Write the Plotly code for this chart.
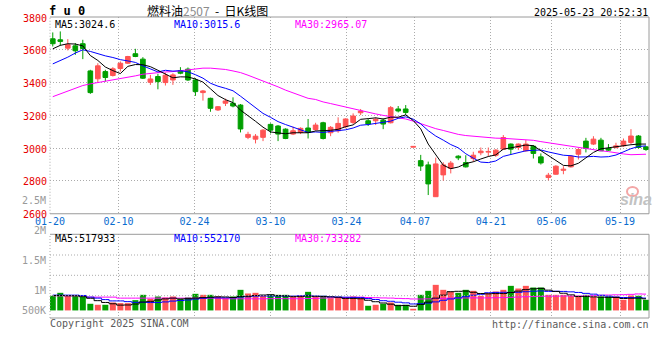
import plotly.graph_objects as go

# ---------------- data ----------------
dates_shown = ["01-20", "02-10", "02-24", "03-10", "03-24", "04-07", "04-21", "05-06", "05-19"]
date_tick_pos = [-0.36, 8.75, 18.87, 28.99, 39.11, 48.22, 58.34, 66.43, 75.54]
price_ticks = [2600, 2800, 3000, 3200, 3400, 3600, 3800]

opens = [3667, 3661, 3610, 3624, 3637, 3471, 3423, 3467, 3443, 3486,
         3518, 3576, 3543, 3402, 3437, 3400, 3416, 3473, 3482, 3416,
         3339, 3304, 3233, 3274, 3274, 3263, 3066, 3055, 3066, 3145,
         3135, 3116, 3086, 3096, 3123, 3114, 3155, 3094, 3106, 3131,
         3157, 3216, 3167, 3167, 3171, 3155, 3239, 3239, 3006, 2924,
         2898, 2704, 2837, 2877, 2951, 2912, 2937, 2972, 2976, 2957,
         2994, 3025, 3004, 2984, 3012, 2947, 2821, 2841, 2865, 2886,
         2963, 3043, 3025, 3049, 2998, 3004, 3014, 3035, 3074, 3008]
highs = [3706, 3712, 3665, 3641, 3661, 3478, 3518, 3478, 3494, 3529,
         3563, 3606, 3555, 3447, 3453, 3461, 3457, 3494, 3492, 3427,
         3355, 3308, 3257, 3302, 3310, 3269, 3100, 3086, 3116, 3151,
         3141, 3121, 3131, 3127, 3178, 3155, 3161, 3135, 3188, 3182,
         3212, 3239, 3180, 3188, 3182, 3257, 3257, 3263, 3011, 2959,
         2918, 2942, 2914, 2922, 2957, 2957, 2978, 3004, 3004, 2994,
         3080, 3029, 3029, 3049, 3019, 2968, 2849, 2896, 2890, 2957,
         2998, 3063, 3073, 3063, 3025, 3033, 3059, 3116, 3080, 3012]
lows = [3620, 3625, 3596, 3569, 3543, 3331, 3400, 3406, 3437, 3467,
        3514, 3555, 3422, 3386, 3359, 3382, 3386, 3451, 3410, 3319,
        3290, 3222, 3227, 3257, 3249, 3096, 3055, 3029, 3043, 3090,
        3043, 3055, 3080, 3086, 3059, 3106, 3053, 3073, 3094, 3121,
        3147, 3202, 3135, 3141, 3116, 3151, 3218, 3202, 3006, 2861,
        2714, 2704, 2802, 2846, 2927, 2882, 2917, 2957, 2951, 2947,
        2992, 2963, 2988, 2978, 2937, 2900, 2804, 2839, 2841, 2882,
        2931, 2974, 3019, 2982, 2984, 2998, 3008, 3025, 2998, 2984]
closes = [3637, 3651, 3631, 3594, 3608, 3339, 3502, 3431, 3484, 3518,
          3559, 3559, 3427, 3422, 3406, 3445, 3447, 3457, 3416, 3345,
          3349, 3243, 3253, 3288, 3257, 3117, 3084, 3073, 3110, 3110,
          3086, 3059, 3106, 3121, 3096, 3141, 3059, 3127, 3151, 3178,
          3196, 3226, 3147, 3176, 3147, 3247, 3227, 3218, 3011, 2891,
          2782, 2904, 2898, 2909, 2941, 2886, 2957, 2982, 2980, 2988,
          3065, 2994, 3025, 3025, 2968, 2910, 2835, 2890, 2872, 2951,
          2992, 2998, 3055, 2984, 2988, 3014, 3043, 3074, 3004, 2992]

ma5 = [3606, 3627, 3637, 3635, 3624, 3565, 3535, 3495, 3473, 3455,
       3499, 3510, 3509, 3497, 3475, 3452, 3429, 3435, 3434, 3422,
       3403, 3362, 3321, 3296, 3278, 3232, 3200, 3164, 3128, 3099,
       3093, 3088, 3094, 3096, 3094, 3105, 3105, 3109, 3115, 3131,
       3142, 3176, 3180, 3185, 3178, 3189, 3189, 3203, 3169, 3118,
       3025, 2960, 2896, 2875, 2885, 2906, 2917, 2934, 2949, 2959,
       2994, 3002, 3010, 3019, 3015, 2984, 2953, 2926, 2895, 2892,
       2908, 2941, 2974, 2996, 3003, 3008, 3017, 3021, 3025, 3025]
ma10 = [3514, 3533, 3555, 3580, 3600, 3590, 3576, 3563, 3553, 3540,
        3532, 3523, 3502, 3485, 3465, 3475, 3470, 3472, 3466, 3448,
        3427, 3396, 3378, 3365, 3350, 3317, 3281, 3243, 3212, 3188,
        3162, 3144, 3129, 3112, 3096, 3099, 3096, 3102, 3106, 3112,
        3123, 3140, 3144, 3150, 3155, 3165, 3182, 3191, 3177, 3148,
        3107, 3074, 3049, 3022, 3002, 2966, 2939, 2915, 2912, 2922,
        2950, 2960, 2972, 2984, 2987, 2989, 2977, 2968, 2957, 2954,
        2946, 2947, 2950, 2946, 2948, 2958, 2979, 2997, 3010, 3014]
ma30 = [3314, 3331, 3351, 3365, 3382, 3392, 3400, 3408, 3416, 3422,
        3433, 3441, 3451, 3457, 3461, 3465, 3467, 3473, 3480, 3486,
        3488, 3488, 3486, 3480, 3471, 3461, 3445, 3428, 3408, 3392,
        3374, 3354, 3336, 3321, 3304, 3297, 3282, 3272, 3261, 3250,
        3238, 3227, 3217, 3209, 3200, 3194, 3186, 3178, 3165, 3150,
        3131, 3119, 3108, 3095, 3084, 3077, 3072, 3069, 3065, 3061,
        3060, 3058, 3055, 3052, 3048, 3040, 3033, 3025, 3015, 3008,
        3001, 2994, 2990, 2984, 2979, 2971, 2965, 2960, 2960, 2963]

# volume in thousands of lots
volume_k = [660, 795, 660, 660, 630, 300, 255, 255, 360, 330,
            330, 465, 705, 525, 630, 585, 630, 525, 585, 750,
            705, 705, 630, 555, 630, 930, 765, 795, 660, 705,
            705, 705, 630, 675, 840, 630, 660, 555, 585, 585,
            630, 585, 210, 255, 300, 360, 255, 255, 75, 705,
            885, 1155, 930, 855, 795, 930, 885, 660, 780, 855,
            930, 1110, 990, 1110, 1035, 1035, 705, 705, 705, 660,
            660, 705, 630, 630, 630, 630, 480, 675, 660, 480]
vma5 = [675, 675, 660, 660, 621, 549, 441, 360, 300, 240,
        246, 288, 378, 411, 471, 522, 555, 519, 531, 555,
        579, 594, 615, 609, 585, 630, 642, 675, 696, 711,
        666, 654, 621, 624, 651, 636, 627, 612, 594, 543,
        543, 528, 459, 393, 336, 282, 216, 225, 189, 270,
        375, 555, 690, 846, 864, 873, 819, 765, 750, 762,
        762, 807, 873, 939, 975, 996, 915, 858, 777, 702,
        627, 627, 612, 597, 591, 585, 540, 549, 555, 525]
vma10 = [690, 690, 690, 690, 675, 600, 555, 490, 430, 430,
         398, 365, 369, 356, 356, 384, 422, 449, 471, 513,
         551, 575, 567, 570, 570, 605, 618, 645, 653, 648,
         648, 648, 648, 660, 681, 651, 641, 617, 609, 597,
         590, 578, 536, 494, 440, 413, 372, 342, 291, 303,
         329, 386, 458, 518, 567, 624, 687, 728, 798, 813,
         818, 813, 819, 845, 869, 879, 861, 866, 858, 839,
         812, 771, 735, 687, 647, 606, 584, 581, 576, 558]
vma30 = [660, 660, 660, 660, 660, 600, 600, 600, 600, 555,
         555, 555, 555, 555, 555, 555, 555, 555, 555, 555,
         555, 555, 555, 525, 525, 525, 525, 525, 525, 531,
         533, 530, 528, 528, 536, 546, 560, 570, 578, 587,
         596, 600, 584, 575, 564, 557, 543, 534, 518, 516,
         522, 537, 548, 557, 563, 563, 567, 563, 566, 572,
         579, 593, 605, 618, 626, 639, 641, 645, 650, 651,
         653, 657, 671, 683, 695, 704, 711, 725, 744, 737]

# ---------------- styling ----------------
RED = "#ff5454"
GREEN = "#009f00"
MONO = "DejaVu Sans Mono"
GRID = "#ababab"
FRAME = "#9a9a9a"
DOT = "1px,2px"

n = len(closes)
idx = list(range(n))
colors = [RED if c >= o else GREEN for o, c in zip(opens, closes)]

fig = go.Figure()

# wicks
for col in (RED, GREEN):
    xs, ys = [], []
    for i in idx:
        if colors[i] == col:
            xs += [i, i, None]
            ys += [lows[i], highs[i], None]
    fig.add_trace(go.Scatter(x=xs, y=ys, mode="lines", line=dict(color=col, width=1),
                             xaxis="x", yaxis="y", hoverinfo="skip"))

# bodies
fig.add_trace(go.Bar(
    x=idx,
    y=[abs(c - o) for o, c in zip(opens, closes)],
    base=[min(o, c) for o, c in zip(opens, closes)],
    width=0.62,
    marker=dict(color=colors, line=dict(color=colors, width=1)),
    xaxis="x", yaxis="y", hoverinfo="skip"))

# price moving averages
for vals, col in ((ma30, "#ff00ff"), (ma10, "#0000ff"), (ma5, "#000000")):
    fig.add_trace(go.Scatter(x=idx, y=vals, mode="lines", line=dict(color=col, width=1),
                             xaxis="x", yaxis="y", hoverinfo="skip"))

# volume bars
fig.add_trace(go.Bar(x=idx, y=volume_k, width=0.8, marker=dict(color=colors, line=dict(width=0)),
                     xaxis="x2", yaxis="y2", hoverinfo="skip"))
for vals, col in ((vma30, "#ff00ff"), (vma10, "#0000ff"), (vma5, "#000000")):
    fig.add_trace(go.Scatter(x=idx, y=vals, mode="lines", line=dict(color=col, width=1, shape="hvh"),
                             xaxis="x2", yaxis="y2", hoverinfo="skip"))

W, H = 660, 360
ML, MR, MT, MB = 50, 11, 17, 42
PW, PH = W - ML - MR, H - MT - MB


def px(x):
    return (x - ML) / PW


def py(y):
    return (H - MB - y) / PH


main_dom = [py(213.75), 1.0]
vol_dom = [0.0, py(234.3)]

xr = [-0.37, 79.4]
fig.update_layout(
    template="none",
    width=W, height=H,
    margin=dict(l=ML, r=MR, t=MT, b=MB, autoexpand=False),
    paper_bgcolor="white", plot_bgcolor="white",
    showlegend=False, barmode="overlay", hovermode=False,
    xaxis=dict(domain=[0, 1], range=xr, anchor="y", tickvals=date_tick_pos, ticktext=dates_shown,
               automargin=False,
               showgrid=True, gridcolor=GRID, griddash=DOT, gridwidth=1, zeroline=False,
               showline=False, ticks="", tickfont=dict(family=MONO, size=10, color="#0a6ccf")),
    yaxis=dict(domain=main_dom, range=[2600, 3800], anchor="x", tickvals=price_ticks,
               ticktext=[str(v) for v in price_ticks], automargin=False,
               ticklabelstandoff=2, ticklabelshift=1,
               showgrid=True, gridcolor=GRID, griddash=DOT, gridwidth=1, zeroline=False,
               showline=False, ticks="", tickfont=dict(family=MONO, size=10, color="#e60000")),
    xaxis2=dict(domain=[0, 1], range=xr, anchor="y2", tickvals=date_tick_pos, showticklabels=False,
                automargin=False,
                showgrid=True, gridcolor=GRID, griddash=DOT, gridwidth=1, zeroline=False,
                showline=False, ticks=""),
    yaxis2=dict(domain=vol_dom, range=[-342, 3438], anchor="x2", showgrid=False, zeroline=False,
                automargin=False,
                showticklabels=False, showline=False, ticks=""),
)

shapes = []
for xd, yd in (("x domain", "y domain"), ("x2 domain", "y2 domain")):
    shapes += [
        dict(type="line", xref=xd, yref=yd, x0=0, x1=1, y0=1, y1=1, line=dict(color=FRAME, width=1)),
        dict(type="line", xref=xd, yref=yd, x0=0, x1=1, y0=0, y1=0, line=dict(color=FRAME, width=1)),
        dict(type="line", xref=xd, yref=yd, x0=1, x1=1, y0=0, y1=1, line=dict(color=FRAME, width=1)),
        dict(type="line", xref=xd, yref=yd, x0=0, x1=0, y0=0, y1=1, line=dict(color=GRID, width=1, dash=DOT)),
    ]
vol_top, vol_bot = 234.3, 318.0
for gy in (255.0, 275.3, 295.7):
    f = (vol_bot - gy) / (vol_bot - vol_top)
    shapes.append(dict(type="line", xref="x2 domain", yref="y2 domain", x0=0, x1=1, y0=f, y1=f,
                       line=dict(color=GRID, width=1, dash=DOT)))
# sina watermark eye
shapes.append(dict(type="circle", xref="paper", yref="paper",
                   x0=px(627), x1=px(638), y0=py(196), y1=py(187),
                   line=dict(color="#f3a6a6", width=2)))
fig.update_layout(shapes=shapes)

ann = []


def text(x, y, s, color="#000", size=10, anchor="left", family=MONO):
    ann.append(dict(x=px(x), y=py(y), xref="paper", yref="paper", text=s, showarrow=False,
                    xanchor=anchor, yanchor="middle", borderpad=0,
                    font=dict(family=family, size=size, color=color)))


text(48, 11.5, "<b>f u 0</b>", size=12)
text(207, 10.5, "燃料油<span style='color:#8c8c8c'>2507</span>\u00a0\u00a0-\u00a0\u00a0日K线图",
     size=12, anchor="center", family="Noto Sans CJK SC")
text(649, 12.5, "2025-05-23 20:52:31", anchor="right")
text(54, 24, "MA5:3024.6")
text(173, 24, "MA10:3015.6", color="#0000ff")
text(294, 24, "MA30:2965.07", color="#ff00ff")
text(54, 239, "MA5:517933")
text(173, 239, "MA10:552170", color="#0000ff")
text(294, 239, "MA30:733282", color="#ff00ff")
for lab, yy in (("2.5M", 200.5), ("2M", 230.7), ("1.5M", 260.7), ("1M", 290.3), ("500K", 310.0)):
    text(47, yy, lab, color="#9a9a9a", anchor="right")
text(49, 323.5, "Copyright 2025 SINA.COM", color="#5a5a5a")
text(650, 324, "http://finance.sina.com.cn", color="#5a5a5a", anchor="right")
text(636, 199, "<b><i>sina</i></b>", color="#c2c2c2", size=16, anchor="center", family="Liberation Sans")
fig.update_layout(annotations=ann)

fig.write_html("out.html", config={"displayModeBar": False, "staticPlot": True},
               post_script="document.body.style.margin='0';")
